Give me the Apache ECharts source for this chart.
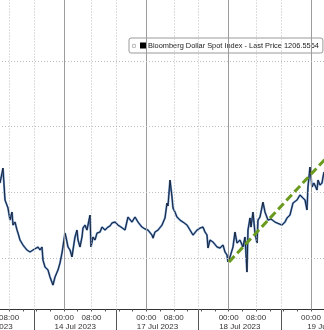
<!DOCTYPE html>
<html>
<head>
<meta charset="utf-8">
<script src="https://cdn.jsdelivr.net/npm/echarts@6/dist/echarts.min.js"></script>
<style>
html,body{margin:0;padding:0;background:#fff;}
#c{width:324px;height:330px;}
</style>
</head>
<body>
<div id="c"></div>
<script>
// x = trading hours on a compressed axis (13 Jul 00:00 = 0, 14 Jul 00:00 = 24, 17 Jul 00:00 = 48, 18 Jul 00:00 = 72, 19 Jul 00:00 = 96)
var hours = [5.34,6.21,6.80,7.38,7.67,8.26,8.84,9.13,9.71,10.30,10.59,11.17,12.04,13.21,14.09,14.96,15.54,16.42,17.00,17.58,17.87,18.46,19.33,19.92,20.79,21.37,22.25,22.83,23.41,24.29,24.58,25.16,25.75,26.33,26.62,27.20,27.79,28.08,28.66,29.24,29.53,30.12,30.70,30.99,31.58,31.87,32.45,33.03,33.62,34.49,35.07,35.95,36.82,37.41,37.99,38.86,39.74,40.61,41.78,42.65,43.82,44.69,45.57,46.73,47.61,48.48,49.65,49.94,50.52,51.40,52.56,53.44,54.02,54.31,54.90,55.48,55.77,56.35,56.94,57.81,58.68,59.85,60.73,61.60,62.77,63.64,64.52,65.10,65.68,65.97,66.56,67.43,68.60,69.47,70.35,70.93,71.51,71.80,72.39,73.26,73.84,74.43,75.30,76.17,76.76,77.34,77.63,78.22,78.51,79.09,79.67,80.26,80.55,81.13,82.00,82.59,83.46,84.34,85.50,87.54,88.42,89.00,89.87,90.75,91.33,91.92,92.79,93.66,94.25,94.83,95.12,95.71,96.29,96.87,97.75,98.04,98.62,99.21,99.50,99.80];
var prices = [1205.71,1206.85,1204.42,1204.57,1203.81,1202.89,1203.50,1202.51,1202.74,1202.13,1201.90,1201.37,1200.99,1200.61,1200.46,1200.61,1200.76,1200.84,1200.61,1200.84,1199.85,1199.31,1199.09,1198.55,1197.94,1198.55,1199.09,1199.62,1200.38,1201.90,1201.60,1200.84,1200.61,1200.08,1200.61,1201.60,1202.13,1201.37,1200.84,1201.60,1202.28,1202.51,1202.13,1202.51,1203.27,1200.84,1201.60,1201.37,1201.90,1201.98,1202.36,1202.13,1202.36,1202.44,1202.67,1202.74,1202.51,1202.36,1202.13,1203.12,1202.74,1203.12,1202.74,1202.36,1202.21,1202.13,1201.75,1201.52,1201.98,1202.13,1202.51,1203.05,1204.19,1203.96,1205.94,1204.65,1203.81,1203.50,1203.12,1202.89,1202.74,1202.51,1202.13,1201.75,1202.13,1202.28,1202.36,1201.98,1201.75,1200.76,1201.37,1201.22,1200.84,1200.76,1200.99,1200.46,1200.23,1199.70,1200.08,1200.84,1201.98,1201.14,1201.37,1200.84,1201.60,1198.93,1202.13,1203.05,1202.36,1203.50,1201.90,1201.14,1202.89,1203.12,1204.26,1203.50,1202.89,1202.97,1202.74,1202.51,1202.74,1203.05,1203.27,1204.19,1204.04,1204.42,1204.80,1204.57,1204.42,1203.66,1205.41,1206.93,1205.41,1205.71,1205.18,1205.94,1205.56,1205.71,1206.17,1206.56];
var trendHours = [72.1, 101.0];
var trendPrices = [1199.70, 1207.78];
var seriesName = 'Bloomberg Dollar Spot Index - Last Price 1206.5564';
var dayStarts = [24, 48, 72, 96];
var morningTicks = [8, 32, 56, 80];
var sessionBreaks = [15.25, 39.25, 63.25, 87.25];
var timeLabelValues = [8, 24, 32, 48, 56, 72, 80, 96];
var dateLabelValues = [3.0, 27.25, 51.25, 75.25, 100.9];
var dateLabels = ['13 Jul 2023', '14 Jul 2023', '17 Jul 2023', '18 Jul 2023', '19 Jul 2023'];
var priceGrid = [1200, 1205, 1210, 1215];

var lineData = hours.map(function (h, i) { return [h, prices[i]]; });
var trendData = trendHours.map(function (h, i) { return [h, trendPrices[i]]; });
var minorTicks = [];
for (var t = 4; t <= 100; t += 4) minorTicks.push(t);

var FONT = "'Liberation Sans',Arial,sans-serif";
// axis extends beyond the visible window on both sides (chart is cropped)
var X_MIN = -6.32, X_MAX = 111.45;

var chart = echarts.init(document.getElementById('c'), null, {renderer: 'canvas'});
chart.setOption({
  animation: false,
  backgroundColor: '#ffffff',
  grid: {left: -40, right: -40, top: 0, bottom: 20.5, containLabel: false, outerBoundsMode: 'none'},
  legend: {
    show: true,
    data: [{name: seriesName, icon: 'rect'}],
    left: 129, top: 38,
    padding: [4, 4, 4, 11],
    itemWidth: 6, itemHeight: 6, itemGap: 2,
    backgroundColor: '#ffffff',
    borderColor: '#9a9a9a', borderWidth: 1, borderRadius: 2,
    textStyle: {fontFamily: FONT, fontSize: 7.4, color: '#222', padding: [0, 0, 0, -3]},
    selectedMode: false
  },
  graphic: [{
    type: 'rect', left: 132, top: 44, shape: {width: 3, height: 3},
    style: {fill: '#fff', stroke: '#aaa', lineWidth: 0.8}, z: 100
  }],
  xAxis: [{
    type: 'value', min: X_MIN, max: X_MAX,
    splitLine: {show: false},
    axisLine: {show: true, lineStyle: {color: '#333', width: 1}},
    axisTick: {show: true, customValues: sessionBreaks, length: 21, inside: false, lineStyle: {color: '#555', width: 1}},
    axisLabel: {
      show: true, customValues: timeLabelValues, margin: 4, hideOverlap: false,
      fontFamily: FONT, fontSize: 8, color: '#333',
      formatter: function (v) { return (Math.round(v) % 24 === 0) ? '00:00' : '08:00'; }
    }
  }, {
    type: 'value', min: X_MIN, max: X_MAX, position: 'bottom',
    splitLine: {show: false},
    axisLine: {show: false},
    axisTick: {show: true, customValues: minorTicks, length: 2, inside: false, lineStyle: {color: '#555', width: 1}},
    axisLabel: {
      show: true, customValues: dateLabelValues, margin: 13, hideOverlap: false,
      fontFamily: FONT, fontSize: 8, color: '#333',
      formatter: function (v) {
        var i = dateLabelValues.indexOf(v);
        return i >= 0 ? dateLabels[i] : '';
      }
    }
  }],
  yAxis: {
    type: 'value', min: 1196.08, max: 1219.65, show: false,
    splitLine: {show: false}
  },
  series: [{
    name: 'vgrid-solid', type: 'line', data: [], silent: true,
    markLine: {
      silent: true, symbol: 'none', label: {show: false},
      lineStyle: {color: '#9c9c9c', width: 1, type: 'solid'},
      data: dayStarts.map(function (v) { return {xAxis: v}; })
    }
  }, {
    name: 'vgrid-dotted', type: 'line', data: [], silent: true,
    markLine: {
      silent: true, symbol: 'none', label: {show: false},
      lineStyle: {color: '#bdbdbd', width: 1, type: [1, 2]},
      data: morningTicks.concat(sessionBreaks).map(function (v) { return {xAxis: v}; })
        .concat(priceGrid.map(function (v) { return {yAxis: v}; }))
    }
  }, {
    name: seriesName + ' glow', type: 'line', data: lineData, showSymbol: false, silent: true,
    lineStyle: {color: '#5a88c4', width: 2}, z: 3
  }, {
    name: seriesName, type: 'line', data: lineData, showSymbol: false, silent: true,
    itemStyle: {color: '#000'},
    lineStyle: {color: '#141a2a', width: 0.9}, z: 4
  }, {
    name: 'trend', type: 'line', data: trendData, showSymbol: false, silent: true,
    lineStyle: {color: '#6a9a1e', width: 3, type: [8, 4]}, z: 5
  }]
});
</script>
</body>
</html>
